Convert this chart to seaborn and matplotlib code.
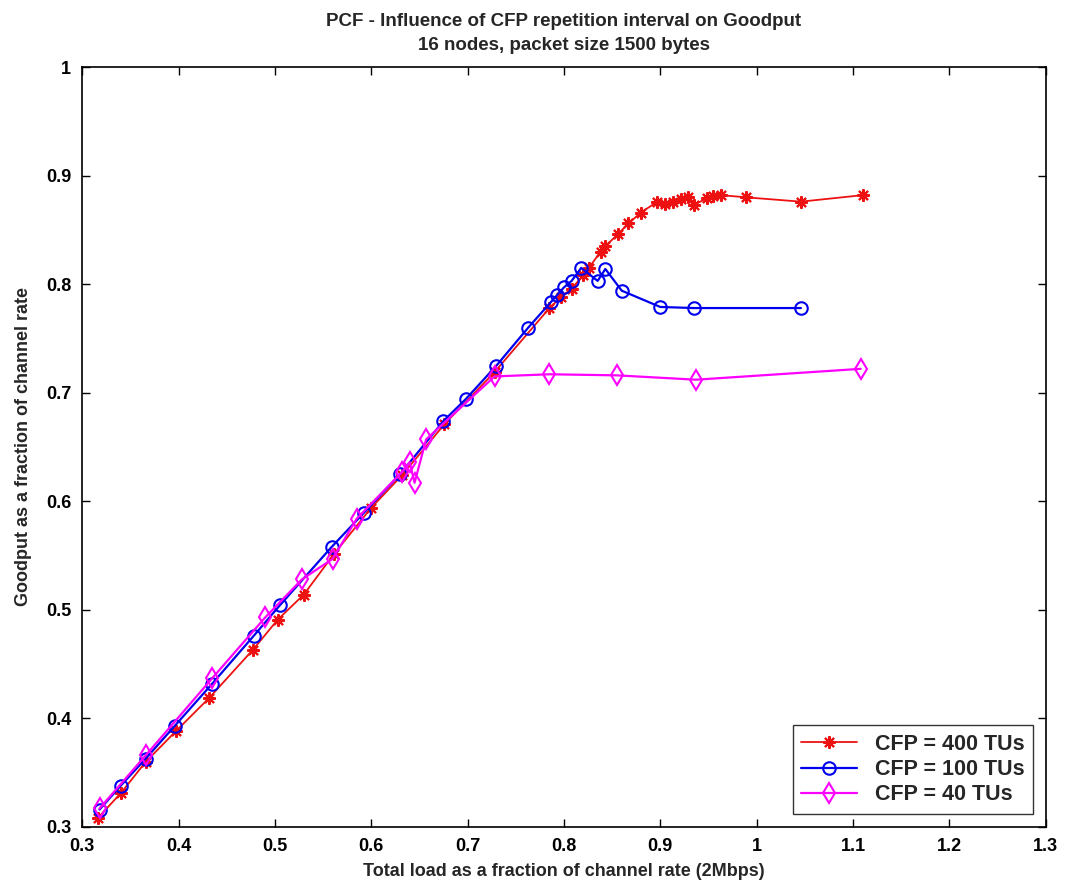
import matplotlib
matplotlib.use("Agg")
import matplotlib.pyplot as plt
import seaborn as sns
import pandas as pd

# CFP = 400 TUs
x400 = [0.316, 0.340, 0.366, 0.397, 0.432, 0.477, 0.503, 0.530, 0.561, 0.600, 0.632,
        0.676, 0.728, 0.785, 0.797, 0.808, 0.820, 0.826, 0.838, 0.843, 0.856, 0.867,
        0.880, 0.897, 0.905, 0.913, 0.922, 0.929, 0.935, 0.948, 0.955, 0.963, 0.989,
        1.046, 1.110]
y400 = [0.308, 0.331, 0.360, 0.388, 0.419, 0.463, 0.491, 0.514, 0.551, 0.594, 0.624,
        0.671, 0.719, 0.778, 0.788, 0.796, 0.808, 0.815, 0.830, 0.835, 0.846, 0.856,
        0.866, 0.876, 0.874, 0.876, 0.878, 0.880, 0.873, 0.879, 0.881, 0.882, 0.880,
        0.876, 0.882]

# CFP = 100 TUs
x100 = [0.318, 0.340, 0.366, 0.396, 0.435, 0.478, 0.505, 0.559, 0.592, 0.630, 0.675,
        0.698, 0.730, 0.763, 0.787, 0.793, 0.800, 0.808, 0.818, 0.835, 0.843, 0.860,
        0.900, 0.935, 1.046]
y100 = [0.316, 0.338, 0.363, 0.393, 0.432, 0.476, 0.504, 0.558, 0.589, 0.625, 0.674,
        0.694, 0.725, 0.760, 0.784, 0.790, 0.797, 0.803, 0.815, 0.803, 0.814, 0.794,
        0.779, 0.778, 0.778]

# CFP = 40 TUs
x40 = [0.318, 0.366, 0.435, 0.490, 0.528, 0.560, 0.585, 0.632, 0.640, 0.645, 0.657,
       0.728, 0.785, 0.855, 0.937, 1.108]
y40 = [0.317, 0.366, 0.437, 0.493, 0.528, 0.547, 0.584, 0.627, 0.636, 0.617, 0.657,
       0.715, 0.717, 0.716, 0.712, 0.722]

labels = ["CFP = 400 TUs", "CFP = 100 TUs", "CFP = 40 TUs"]
xticks = [0.3, 0.4, 0.5, 0.6, 0.7, 0.8, 0.9, 1.0, 1.1, 1.2, 1.3]
xticklabels = ["0.3", "0.4", "0.5", "0.6", "0.7", "0.8", "0.9", "1", "1.1", "1.2", "1.3"]
yticks = [0.3, 0.4, 0.5, 0.6, 0.7, 0.8, 0.9, 1.0]
yticklabels = ["0.3", "0.4", "0.5", "0.6", "0.7", "0.8", "0.9", "1"]

sns.set_style("ticks")
plt.rcParams["font.family"] = ["Liberation Sans", "DejaVu Sans"]
plt.rcParams["font.weight"] = "bold"

fig = plt.figure(figsize=(10.67, 8.94), dpi=100)
ax = fig.add_axes([0.077, 0.075, 0.903, 0.850])

series = [(x400, y400, "#ee1111", (8, 2, 0), 9, 1.3, labels[0]),
          (x100, y100, "#0000ee", "o", 9, 1.6, labels[1]),
          (x40, y40, "#ff00ff", "d", 10, 1.6, labels[2])]
for xs, ys, col, mk, ms, lw, lab in series:
    df = pd.DataFrame({"x": xs, "y": ys})
    sns.lineplot(data=df, x="x", y="y", ax=ax, sort=False, estimator=None,
                 color=col, lw=lw, marker=mk, markersize=ms,
                 markerfacecolor="none", markeredgecolor=col, markeredgewidth=1.5,
                 label=lab)

ax.set_xlim(0.3, 1.3)
ax.set_ylim(0.3, 1.0)
ax.set_xticks(xticks)
ax.set_xticklabels(xticklabels)
ax.set_yticks(yticks)
ax.set_yticklabels(yticklabels)
ax.tick_params(direction="in", length=6, width=1, top=True, right=True,
               labelsize=13, pad=8, colors="black")
for s in ax.spines.values():
    s.set_visible(True)
    s.set_linewidth(1.2)
    s.set_color("black")

ax.set_xlabel("Total load as a fraction of channel rate (2Mbps)", fontsize=13,
              fontweight="bold", labelpad=6)
ax.set_ylabel("Goodput as a fraction of channel rate", fontsize=13,
              fontweight="bold", labelpad=10)
ax.set_title("PCF - Influence of CFP repetition interval on Goodput\n16 nodes, packet size 1500 bytes",
             fontsize=13.5, fontweight="bold", pad=12, linespacing=1.55)

leg = ax.legend(loc="lower right", fontsize=15.5, frameon=True, fancybox=False,
                edgecolor="black", borderaxespad=0.6, handlelength=2.6,
                labelspacing=0.2, borderpad=0.4)
leg.get_frame().set_linewidth(1.0)
for t in leg.get_texts():
    t.set_fontweight("bold")

fig.savefig("out.png", dpi=100, facecolor="white")
